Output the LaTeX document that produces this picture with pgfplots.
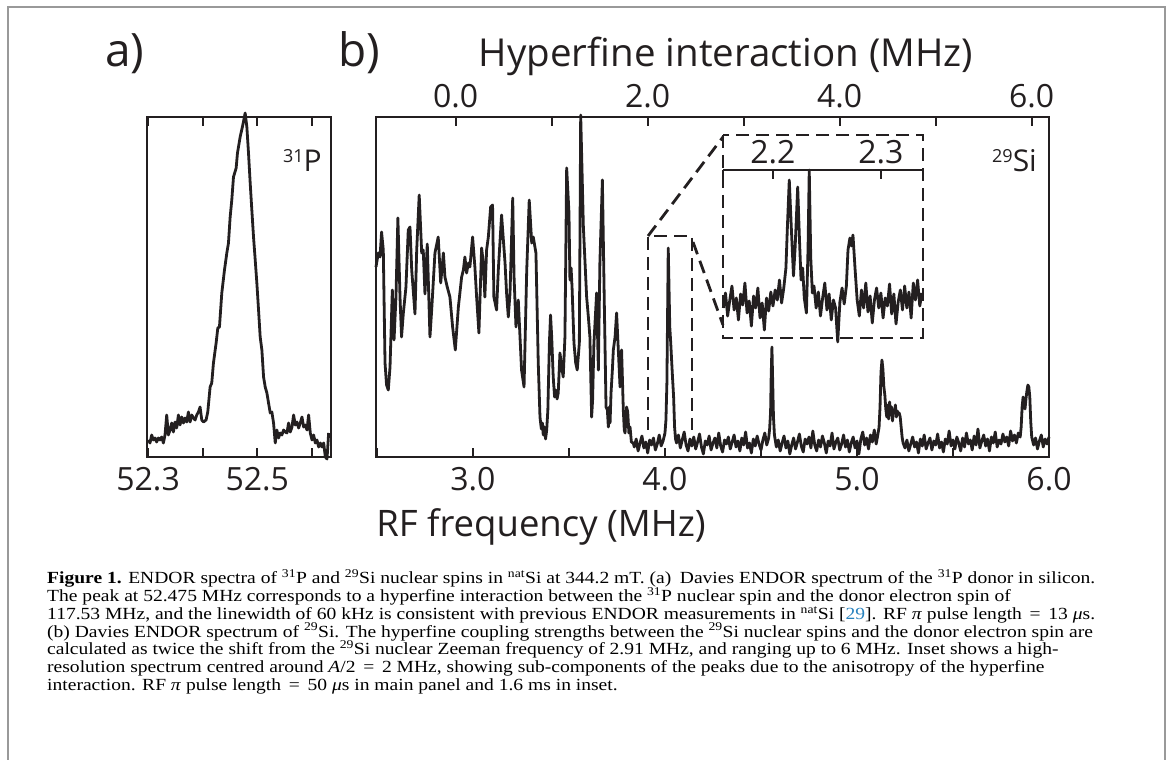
\documentclass[border=0pt]{standalone}
\usepackage{pgfplots}
\pgfplotsset{compat=1.18}
\usepackage{fontspec}
\setmainfont{Liberation Serif}
\newfontfamily\capfont[FakeStretch=1.15]{Liberation Serif}
\newfontfamily\figfont{Open Sans}
\definecolor{ink}{RGB}{35,31,32}
\definecolor{citeblue}{RGB}{40,130,190}

\pgfplotsset{
  panel/.style={
    scale only axis, clip=false,
    axis line style={ink, line width=2.4pt},
    every tick/.style={ink, line width=2.2pt},
    major tick length=9pt,
    tick align=inside,
    ytick=\empty,
    tick label style={font=\figfont\fontsize{32}{32}\selectfont, text=ink, inner sep=0pt},
  },
  spec/.style={ink, line width=2.8pt, line join=round, no marks},
}

\begin{document}
\begin{tikzpicture}[x=1pt, y=1pt]
% picture is 1171 x 760, origin bottom left
\useasboundingbox (0,0) rectangle (1171pt,760pt);
\draw[black!40, line width=1.6pt] (8pt,-10pt) -- (8pt,753pt) -- (1165pt,753pt) -- (1165pt,-10pt);

% a) 31P
\begin{axis}[panel, at={(147pt,303pt)}, anchor=south west, width=184pt, height=340pt,
  xmin=52.298, xmax=52.635, ymin=0, ymax=340,
  xtick={52.3,52.4,52.5,52.6}, xticklabels={52.3,,52.5,},
  xtick pos=both, xticklabel pos=left,
  xticklabel style={anchor=north, yshift=-10pt}]
\addplot[spec] coordinates {
(52.3004,17)(52.3035,14)(52.3066,22)(52.3096,17)(52.3127,19)(52.3157,15)(52.3188,19)(52.3218,17)
(52.3249,20)(52.3280,14)(52.3310,22)(52.3341,42)(52.3371,22)(52.3402,27)(52.3433,34)(52.3463,25)
(52.3494,35)(52.3524,29)(52.3555,42)(52.3585,32)(52.3616,40)(52.3647,34)(52.3677,39)(52.3708,35)
(52.3738,45)(52.3769,35)(52.3800,42)(52.3830,39)(52.3861,37)(52.3891,42)(52.3922,45)(52.3952,50)
(52.3983,37)(52.4014,35)(52.4062,37)(52.4093,45)(52.4136,70)(52.4166,74)(52.4197,94)(52.4246,114)
(52.4277,129)(52.4307,130)(52.4350,164)(52.4399,187)(52.4442,204)(52.4472,214)(52.4503,240)
(52.4533,257)(52.4564,280)(52.4613,289)(52.4637,304)(52.4686,320)(52.4735,332)(52.4778,344)
(52.4809,330)(52.4839,304)(52.4870,274)(52.4900,247)(52.4931,220)(52.4962,197)(52.4992,174)
(52.5023,147)(52.5053,120)(52.5084,107)(52.5115,80)(52.5145,70)(52.5176,64)(52.5206,54)
(52.5237,44)(52.5267,45)(52.5298,34)(52.5329,14)(52.5359,27)(52.5390,19)(52.5420,24)(52.5451,22)
(52.5482,27)(52.5512,25)(52.5543,24)(52.5573,34)(52.5604,25)(52.5635,30)(52.5665,42)(52.5696,32)
(52.5726,35)(52.5757,29)(52.5787,34)(52.5818,40)(52.5849,30)(52.5879,32)(52.5910,27)(52.5940,42)
(52.5971,24)(52.6002,17)(52.6032,22)(52.6063,14)(52.6093,17)(52.6124,10)(52.6154,14)(52.6185,10)
(52.6216,14)(52.6246,0)(52.6277,-2)(52.6307,24)
};
\end{axis}

% b) 29Si, RF frequency axis
\begin{axis}[panel, at={(376pt,303pt)}, anchor=south west, width=673pt, height=340pt,
  xmin=2.495, xmax=6.0, ymin=0, ymax=340,
  xtick={2.5,3,3.5,4,4.5,5,5.5,6}, xticklabels={,3.0,,4.0,,5.0,,6.0},
  xtick pos=left, xticklabel pos=left,
  xticklabel style={anchor=north, yshift=-10pt}]
\addplot[spec] coordinates {
(2.495,190)(2.507,204)(2.516,200)(2.524,225)(2.533,207)(2.542,94)(2.550,72)(2.559,67)(2.568,90)
(2.580,167)(2.589,117)(2.599,160)(2.609,239)(2.620,160)(2.628,120)(2.637,143)(2.651,170)(2.663,227)
(2.672,230)(2.681,187)(2.698,143)(2.707,207)(2.720,262)(2.733,204)(2.741,207)(2.750,163)(2.762,213)
(2.776,120)(2.785,147)(2.802,204)(2.819,220)(2.832,174)(2.846,204)(2.854,180)(2.866,170)(2.880,160)
(2.894,130)(2.908,107)(2.924,150)(2.941,180)(2.950,187)(2.958,200)(2.967,184)(2.976,194)(2.984,190)
(2.998,220)(3.010,190)(3.019,160)(3.031,124)(3.045,209)(3.054,194)(3.062,160)(3.071,207)(3.080,220)
(3.092,250)(3.102,252)(3.109,160)(3.123,147)(3.132,187)(3.149,242)(3.167,194)(3.175,164)(3.184,140)
(3.193,164)(3.207,259)(3.214,180)(3.224,130)(3.236,157)(3.253,87)(3.266,70)(3.280,187)(3.293,257)
(3.306,214)(3.314,220)(3.328,204)(3.340,94)(3.349,40)(3.356,28)(3.362,34)(3.366,22)(3.372,30)
(3.378,18)(3.384,27)(3.390,47)(3.398,114)(3.404,142)(3.410,120)(3.418,80)(3.425,60)(3.431,67)
(3.438,58)(3.444,64)(3.453,104)(3.462,90)(3.470,80)(3.479,120)(3.488,289)(3.500,244)(3.505,177)
(3.511,189)(3.516,170)(3.526,114)(3.535,94)(3.543,87)(3.554,114)(3.561,342)(3.575,230)(3.592,160)
(3.601,140)(3.609,120)(3.618,40)(3.623,57)(3.630,114)(3.644,164)(3.653,87)(3.661,194)(3.674,277)
(3.684,154)(3.693,50)(3.700,47)(3.705,30)(3.710,50)(3.714,34)(3.719,64)(3.726,87)(3.731,107)
(3.740,120)(3.748,144)(3.757,107)(3.766,70)(3.774,107)(3.783,47)(3.788,27)(3.792,24)(3.800,50)
(3.806,45)(3.812,24)(3.818,30)(3.825,15)(3.835,14)
(3.84,10)(3.85,18)(3.86,6)(3.87,14)(3.88,21)(3.89,9)(3.90,15)(3.91,4)(3.92,17)(3.93,12)(3.94,19)
(3.95,7)(3.96,13)(3.97,22)(3.98,11)(3.99,16)
(4.000,24)(4.005,37)(4.010,74)(4.017,209)(4.025,130)(4.030,114)(4.035,95)(4.040,77)(4.045,60)
(4.050,30)(4.055,18)
(4.06,14)(4.07,22)(4.08,9)(4.09,17)(4.10,25)(4.11,12)(4.12,6)(4.13,18)(4.14,11)(4.15,20)
(4.16,8)(4.17,15)(4.18,23)(4.19,10)(4.20,3)(4.21,16)(4.22,12)(4.23,21)(4.24,7)(4.25,14)
(4.26,19)(4.27,9)(4.28,24)(4.29,11)(4.30,5)(4.31,17)(4.32,13)(4.33,20)(4.34,8)(4.35,15)
(4.36,22)(4.37,10)(4.38,16)(4.39,6)(4.40,19)(4.41,12)(4.42,25)(4.43,9)(4.44,14)(4.45,4)
(4.46,18)(4.47,11)(4.48,21)(4.49,13)(4.50,7)(4.51,17)(4.52,24)(4.53,12)(4.54,19)(4.545,28)
(4.550,45)(4.553,80)(4.557,110)(4.561,75)(4.565,40)(4.570,22)
(4.58,10)(4.59,17)(4.60,6)(4.61,14)(4.62,21)(4.63,9)(4.64,16)(4.65,3)(4.66,12)(4.67,19)
(4.68,8)(4.69,15)(4.70,23)(4.71,11)(4.72,5)(4.73,18)(4.74,13)(4.75,20)(4.76,9)(4.77,26)
(4.78,12)(4.79,6)(4.80,17)(4.81,10)(4.82,21)(4.83,14)(4.84,4)(4.85,16)(4.86,11)(4.87,24)
(4.88,8)(4.89,15)(4.90,19)(4.91,7)(4.92,13)(4.93,22)(4.94,10)(4.95,17)(4.96,5)(4.97,14)
(4.98,20)(4.99,9)(5.00,16)(5.01,3)(5.02,18)(5.03,25)(5.04,12)(5.05,19)(5.06,8)(5.07,22)
(5.08,15)(5.09,27)(5.10,13)(5.11,24)(5.115,30)
(5.120,50)(5.125,85)(5.130,97)(5.135,88)(5.140,70)(5.145,62)(5.150,48)(5.155,40)(5.160,52)
(5.165,38)(5.170,55)(5.175,42)(5.180,50)(5.185,36)(5.190,47)(5.195,44)(5.200,52)(5.205,40)
(5.210,46)(5.215,43)(5.220,44)(5.225,40)(5.230,30)(5.235,20)(5.240,14)
(5.25,9)(5.26,17)(5.27,6)(5.28,13)(5.29,20)(5.30,10)(5.31,15)(5.32,4)(5.33,18)(5.34,11)
(5.35,22)(5.36,8)(5.37,14)(5.38,19)(5.39,7)(5.40,16)(5.41,12)(5.42,23)(5.43,9)(5.44,15)
(5.45,5)(5.46,18)(5.47,13)(5.48,26)(5.49,11)(5.50,17)(5.51,8)(5.52,20)(5.53,14)(5.54,6)
(5.55,19)(5.56,10)(5.57,24)(5.58,13)(5.59,17)(5.60,7)(5.61,21)(5.62,12)(5.63,28)(5.64,9)
(5.65,16)(5.66,22)(5.67,11)(5.68,18)(5.69,6)(5.70,20)(5.71,14)(5.72,25)(5.73,10)(5.74,17)
(5.75,13)(5.76,23)(5.77,15)(5.78,20)(5.79,11)(5.80,26)(5.81,16)(5.82,22)(5.83,14)(5.84,24)
(5.85,20)(5.855,30)
(5.860,50)(5.865,60)(5.870,55)(5.875,48)(5.880,58)(5.885,66)(5.890,72)(5.895,70)(5.900,60)
(5.905,35)(5.910,20)
(5.92,12)(5.93,19)(5.94,8)(5.95,16)(5.96,22)(5.97,10)(5.98,18)(5.99,13)(6.00,20)
};
\end{axis}

% b) hyperfine interaction axis on top
\begin{axis}[panel, at={(376pt,303pt)}, anchor=south west, width=673pt, height=340pt,
  xmin=-0.83, xmax=6.18, ymin=0, ymax=1,
  xtick={0,1,2,3,4,5,6}, xticklabels={0.0,,2.0,,4.0,,6.0},
  xtick pos=right, xticklabel pos=right,
  xticklabel style={anchor=south, yshift=9pt}]
\end{axis}

% inset
\begin{axis}[panel, at={(723pt,422pt)}, anchor=south west, width=200pt, height=168pt,
  xmin=2.1537, xmax=2.339, ymin=0, ymax=168,
  axis x line*=top, axis y line=none,
  xtick={2.2,2.3}, xticklabels={2.2,2.3},
  extra x ticks={2.1537,2.339}, extra x tick labels={,},
  xticklabel style={anchor=south, yshift=6pt}]
\addplot[spec] coordinates {
(2.154,30)(2.156,45)(2.158,22)(2.160,38)(2.162,52)(2.164,28)(2.166,40)(2.168,18)(2.170,44)
(2.172,33)(2.174,55)(2.176,25)(2.178,37)(2.180,12)(2.182,42)(2.184,30)(2.186,50)(2.188,20)
(2.190,35)(2.192,8)(2.194,40)(2.196,27)(2.198,46)(2.200,32)(2.202,48)(2.204,38)(2.206,58)
(2.208,35)(2.210,50)(2.212,70)(2.2135,115)(2.2151,158)(2.217,110)(2.219,62)(2.2205,90)
(2.2229,151)(2.2245,100)(2.226,58)(2.2275,70)(2.229,40)(2.231,25)(2.2325,90)(2.2336,168)
(2.235,80)(2.2365,45)(2.238,52)(2.240,30)(2.242,46)(2.244,22)(2.246,40)(2.248,55)(2.250,28)
(2.252,44)(2.254,18)(2.256,38)(2.258,30)(2.260,-4)(2.262,36)(2.264,50)(2.266,34)(2.268,52)
(2.2695,88)(2.2713,100)(2.2727,92)(2.2741,103)(2.276,70)(2.278,38)(2.280,22)(2.282,48)
(2.284,30)(2.286,55)(2.288,26)(2.290,42)(2.292,15)(2.294,38)(2.296,50)(2.298,30)(2.300,45)
(2.302,20)(2.304,40)(2.306,32)(2.308,54)(2.310,24)(2.312,44)(2.314,14)(2.316,36)(2.318,48)
(2.320,28)(2.322,52)(2.324,30)(2.326,46)(2.328,20)(2.330,55)(2.332,38)(2.334,58)(2.336,32)
(2.338,45)
};
\end{axis}

% dashed zoom markers
\begin{scope}[ink, line width=2.8pt, dash pattern=on 13pt off 7pt]
\draw (723pt,625pt) rectangle (923pt,422pt);
\draw (648pt,330pt) -- (648pt,524pt) -- (692pt,524pt) -- (692pt,330pt);
\draw (648pt,524pt) -- (723pt,623pt);
\draw (693pt,518pt) -- (723pt,435pt);
\end{scope}

% labels
\begin{scope}[every node/.style={inner sep=0pt, text=ink}]
\node[anchor=base west, font=\figfont\fontsize{46}{46}\selectfont] at (105pt,693pt) {a)};
\node[anchor=base west, font=\figfont\fontsize{46}{46}\selectfont] at (338pt,693pt) {b)};
\node[anchor=base, font=\figfont\fontsize{38.5}{38.5}\selectfont] at (726pt,693pt) {Hyperfine interaction (MHz)};
\node[anchor=base, font=\figfont\fontsize{36.5}{36.5}\selectfont] at (541pt,223pt) {RF frequency (MHz)};
\node[anchor=base east, font=\figfont\fontsize{30}{30}\selectfont] at (322pt,588pt)
  {\raisebox{9pt}{\fontsize{18}{18}\selectfont 31}P};
\node[anchor=base east, font=\figfont\fontsize{30}{30}\selectfont] at (1037pt,588pt)
  {\raisebox{9pt}{\fontsize{18}{18}\selectfont 29}Si};
\end{scope}

% caption
\begin{scope}[every node/.style={inner sep=0pt, anchor=base west, font=\capfont\fontsize{17}{18}\selectfont}]
\node at (47pt,176pt) {\textbf{Figure 1.} ENDOR spectra of \textsuperscript{31}P and \textsuperscript{29}Si nuclear spins in \textsuperscript{nat}Si at 344.2 mT. (a)\enspace Davies ENDOR spectrum of the \textsuperscript{31}P donor in silicon.};
\node at (47pt,158.3pt) {The peak at 52.475 MHz corresponds to a hyperfine interaction between the \textsuperscript{31}P nuclear spin and the donor electron spin of};
\node at (47pt,140.6pt) {117.53 MHz, and the linewidth of 60 kHz is consistent with previous ENDOR measurements in \textsuperscript{nat}Si [\textcolor{citeblue}{29}]. RF \textit{π} pulse length \,=\, 13 \textit{μ}s.};
\node at (47pt,122.9pt) {(b) Davies ENDOR spectrum of \textsuperscript{29}Si. The hyperfine coupling strengths between the \textsuperscript{29}Si nuclear spins and the donor electron spin are};
\node at (47pt,105.2pt) {calculated as twice the shift from the \textsuperscript{29}Si nuclear Zeeman frequency of 2.91 MHz, and ranging up to 6 MHz. Inset shows a high-};
\node at (47pt,87.5pt) {resolution spectrum centred around \textit{A}/2 \,=\, 2 MHz, showing sub-components of the peaks due to the anisotropy of the hyperfine};
\node at (47pt,69.8pt) {interaction. RF \textit{π} pulse length \,=\, 50 \textit{μ}s in main panel and 1.6 ms in inset.};
\end{scope}
\end{tikzpicture}
\end{document}
